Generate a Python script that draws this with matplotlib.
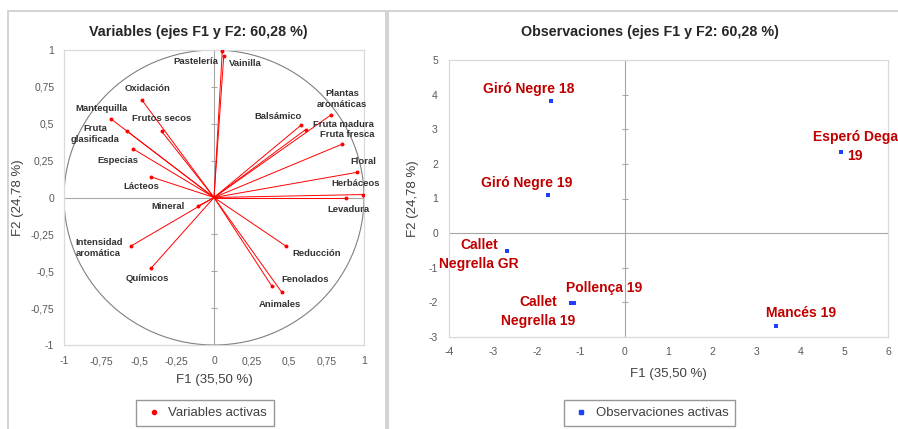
import numpy as np
import matplotlib.pyplot as plt
from matplotlib.patches import Rectangle
from matplotlib.lines import Line2D

plt.rcParams['font.family'] = ['Liberation Sans', 'DejaVu Sans']

# --- data: variables (correlations with F1/F2) ---
var_names = ['Pastelería', 'Vainilla', 'Oxidación', 'Frutos secos', 'Mantequilla',
             'Fruta\nglasificada', 'Especias', 'Lácteos', 'Mineral', 'Balsámico',
             'Plantas\naromáticas', 'Fruta madura', 'Fruta fresca', 'Floral',
             'Herbáceos', 'Levadura', 'Intensidad\naromática', 'Químicos',
             'Reducción', 'Fenolados', 'Animales']
var_f1 = [0.055, 0.065, -0.48, -0.35, -0.69, -0.58, -0.54, -0.42, -0.11, 0.58,
          0.78, 0.61, 0.85, 0.95, 0.99, 0.88, -0.555, -0.42, 0.48, 0.385, 0.45]
var_f2 = [0.99, 0.96, 0.66, 0.45, 0.535, 0.45, 0.33, 0.14, -0.06, 0.49,
          0.56, 0.46, 0.36, 0.17, 0.02, 0.0, -0.33, -0.48, -0.33, -0.60, -0.64]

# --- data: observations (factor scores) ---
obs_names = ['Giró Negre 18', 'Giró Negre 19', 'Esperó Dega\n19', 'Callet\nNegrella GR',
             'Pollença 19', 'Callet\nNegrella 19', 'Mancés 19']
obs_f1 = [-1.68, -1.74, 4.93, -2.68, -1.16, -1.22, 3.46]
obs_f2 = [3.81, 1.10, 2.34, -0.52, -2.01, -2.01, -2.67]

# label offsets in pixels (x right, y up)
var_offsets = [(-26, -10), (22, -8), (6, 12), (0, 13), (-9, 10), (-32, -3), (-15, -12),
               (-10, -10), (-30, 0), (-23, 9), (11, 16), (38, 5), (6, 10), (7, 11),
               (-7, 11), (2, -12), (-32, -2), (-4, -10), (31, -7), (33, 6), (-2, -13)]
obs_offsets = [(-22, 12), (-22, 12), (14, 6), (-28, -3), (30, 15), (-33, -9), (25, 13)]

W, H = 898, 429
fig = plt.figure(figsize=(W / 100, H / 100), dpi=100)

# chart-area borders
fig.patches.append(Rectangle((8 / W, -0.05), (386 - 8) / W, (H - 11) / H + 0.05,
                             transform=fig.transFigure, fill=False, ec='#D0D0D0', lw=1.3))
fig.patches.append(Rectangle((388 / W, -0.05), 0.6, (H - 11) / H + 0.05,
                             transform=fig.transFigure, fill=False, ec='#D0D0D0', lw=1.3))


def fmt(v):
    return f'{v:g}'.replace('.', ',')


def style_axes(ax, xt, yt, xpad, ypad):
    for s in ax.spines.values():
        s.set_color('#D9D9D9')
        s.set_linewidth(0.9)
    ax.set_xticks(xt)
    ax.set_yticks(yt)
    ax.set_xticklabels([fmt(v) for v in xt])
    ax.set_yticklabels([fmt(v) for v in yt])
    ax.tick_params(length=0, labelsize=7.5, labelcolor='#595959')
    ax.tick_params(axis='x', pad=xpad)
    ax.tick_params(axis='y', pad=ypad)
    ax.axhline(0, color='#A6A6A6', lw=0.8, zorder=1)
    ax.axvline(0, color='#A6A6A6', lw=0.8, zorder=1)
    yin = [v for v in yt if v != 0 and v != yt[0] and v != yt[-1]]
    ax.plot(np.zeros(len(yin)), yin, ls='none', marker='_', ms=5, mew=0.8,
            color='#A6A6A6', zorder=1)
    ax.set_xlabel('F1 (35,50 %)', fontsize=9.5, color='#404040')
    ax.set_ylabel('F2 (24,78 %)', fontsize=9.5, color='#404040')


# ---------------- left: variables ----------------
ax1 = fig.add_axes([64 / W, 1 - 345 / H, 300 / W, 295 / H])
ax1.set_xlim(-1, 1)
ax1.set_ylim(-1, 1)
style_axes(ax1, np.arange(-1, 1.01, 0.25), np.arange(-1, 1.01, 0.25), 8, 7)
ax1.xaxis.labelpad = 6
ax1.yaxis.labelpad = 5

theta = np.linspace(0, 2 * np.pi, 400)
ax1.plot(np.cos(theta), np.sin(theta), color='#808080', lw=0.8, zorder=1)
for x, y in zip(var_f1, var_f2):
    ax1.plot([0, x], [0, y], color='#FF0000', lw=0.7, zorder=2)
ax1.scatter(var_f1, var_f2, s=8, color='#FF0000', zorder=3, linewidths=0)
for name, x, y, off in zip(var_names, var_f1, var_f2, var_offsets):
    ax1.annotate(name, (x, y), xytext=off, textcoords='offset pixels', ha='center',
                 va='center', fontsize=6.8, fontweight='bold', color='#333333',
                 linespacing=1.35)
fig.text(198 / W, 1 - 32 / H, 'Variables (ejes F1 y F2: 60,28 %)', ha='center',
         va='center', fontsize=10.3, fontweight='bold', color='#262626')

# ---------------- right: observations ----------------
ax2 = fig.add_axes([449 / W, 1 - 337 / H, 439 / W, 277 / H])
ax2.set_xlim(-4, 6)
ax2.set_ylim(-3, 5)
style_axes(ax2, np.arange(-4, 7, 1), np.arange(-3, 6, 1), 7, 8)
ax2.xaxis.labelpad = 8
ax2.yaxis.labelpad = 7
ax2.scatter(obs_f1, obs_f2, s=8, marker='s', color='#1F3FFF', zorder=3, linewidths=0)
for name, x, y, off in zip(obs_names, obs_f1, obs_f2, obs_offsets):
    ax2.annotate(name, (x, y), xytext=off, textcoords='offset pixels', ha='center',
                 va='center', fontsize=10, fontweight='bold', color='#C00000',
                 linespacing=1.45, annotation_clip=False)
fig.text(650 / W, 1 - 32 / H, 'Observaciones (ejes F1 y F2: 60,28 %)', ha='center',
         va='center', fontsize=10.3, fontweight='bold', color='#262626')

# ---------------- legends ----------------
for cx, col, lab, mk in [(205, '#FF0000', 'Variables activas', 'o'),
                         (649.5, '#1F3FFF', 'Observaciones activas', 's')]:
    h = Line2D([], [], ls='none', marker=mk, ms=3, color=col)
    leg = fig.legend([h], [lab], loc='center', bbox_to_anchor=(cx / W, 1 - 413 / H),
                     fontsize=9.5, frameon=True, fancybox=False, edgecolor='#7F7F7F',
                     handlelength=1.6, handletextpad=0.3, borderpad=0.5,
                     borderaxespad=0)
    leg.get_frame().set_linewidth(1.0)
    for t in leg.get_texts():
        t.set_color('#404040')

fig.savefig('out.png', dpi=100)
